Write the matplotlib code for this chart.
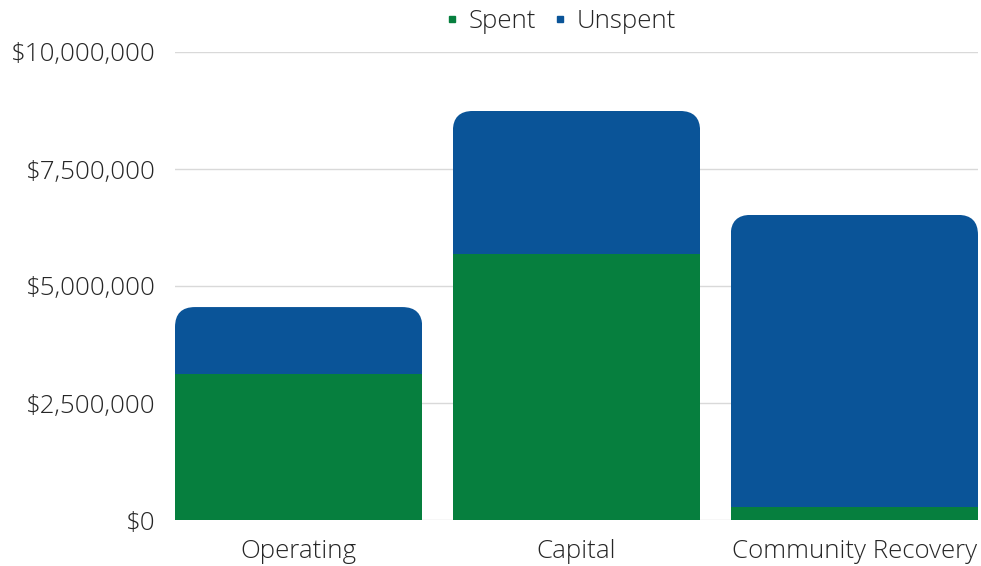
import matplotlib.pyplot as plt
from matplotlib.patches import FancyBboxPatch
from matplotlib.lines import Line2D
from matplotlib.ticker import FuncFormatter

plt.rcParams['font.family'] = ['Open Sans', 'DejaVu Sans']
plt.rcParams['font.weight'] = 'light'

categories = ['Operating', 'Capital', 'Community Recovery']
spent = [3120000, 5680000, 280000]
unspent = [1430000, 3060000, 6240000]
yticks = [0, 2500000, 5000000, 7500000, 10000000]

green = '#067F3E'
blue = '#0A5498'

fig = plt.figure(figsize=(9.81, 5.66), dpi=100)
# axes placed in pixels: left 175, right 978, bottom 520, top 52
ax = fig.add_axes([175 / 981, (566 - 520) / 566, (978 - 175) / 981, (520 - 52) / 566])

width = 0.89
x = list(range(len(categories)))
ax.set_xlim(-width / 2, len(categories) - 1 + width / 2)
ax.set_ylim(0, 10000000)

b1 = ax.bar(x, spent, width=width, color=green, zorder=3)
b2 = ax.bar(x, unspent, width=width, bottom=spent, color=blue, zorder=3)

# rounded top corners via clip paths (radius in pixels)
r_px = 20
ax_w = (978 - 175)
ax_h = (520 - 52)
x_per_px = (len(categories) - 1 + width) / ax_w
y_per_px = 10000000 / ax_h
r = r_px * x_per_px
aspect = y_per_px / x_per_px
for i in range(len(categories)):
    total = spent[i] + unspent[i]
    clip = FancyBboxPatch((x[i] - width / 2, -total), width, 2 * total,
                          boxstyle=f'round,pad=0,rounding_size={r}',
                          mutation_aspect=aspect, transform=ax.transData,
                          facecolor='none', edgecolor='none')
    ax.add_patch(clip)
    b1[i].set_clip_path(clip)
    b2[i].set_clip_path(clip)

ax.set_yticks(yticks)
ax.yaxis.set_major_formatter(FuncFormatter(lambda v, p: f'${v:,.0f}'))
ax.set_xticks(x)
ax.set_xticklabels(categories)
ax.tick_params(axis='both', length=0, labelsize=18.6, colors='#262626')
ax.tick_params(axis='y', pad=14)
ax.tick_params(axis='x', pad=14)
ax.grid(axis='y', color='#d9d9d9', linewidth=1, zorder=0)
for s in ax.spines.values():
    s.set_visible(False)

handles = [Line2D([], [], marker='s', linestyle='none', color=green, markersize=5),
           Line2D([], [], marker='s', linestyle='none', color=blue, markersize=5)]
fig.legend(handles, ['Spent', 'Unspent'], loc='center', bbox_to_anchor=(0.571, 0.962),
           ncol=2, frameon=False, fontsize=18.6, handlelength=0.6, handletextpad=0.35,
           columnspacing=0.6, labelcolor='#262626')

plt.savefig('out.png', dpi=100)
